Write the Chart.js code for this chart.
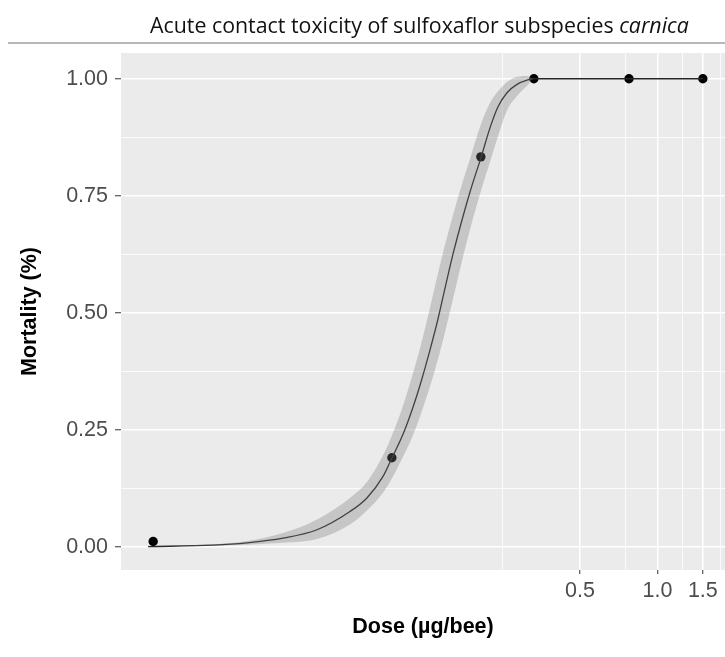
<!DOCTYPE html>
<html>
<head>
<meta charset="utf-8">
<script src="https://cdn.jsdelivr.net/npm/chart.js@4.4.1/dist/chart.umd.min.js"></script>
<style>
  html, body { margin: 0; padding: 0; background: #fff; }
  #wrap { position: relative; width: 725px; height: 657px; overflow: hidden; }
  #chart { position: absolute; left: 0; top: 0; }
  #title {
    position: absolute; top: 14px; left: 150px; white-space: nowrap;
    font-family: "Open Sans", "Noto Sans", sans-serif; font-size: 18px; line-height: 1; color: #111;
  }
  #rule { position: absolute; left: 8px; top: 42px; width: 717px; border-top: 2px solid #b8b8b8; }
</style>
</head>
<body>
<div id="wrap">
  <canvas id="chart" width="725" height="657"></canvas>
  <div id="title">Acute contact toxicity of sulfoxaflor subspecies <i>carnica</i></div>
  <div id="rule"></div>
</div>
<script>
// observed mortality per dose
const doses = [0.011, 0.093, 0.206, 0.331, 0.775, 1.5];
const mortality = [0.011, 0.19, 0.833, 1, 1, 1];

// fitted curve and its confidence band
const curveDose = [0.01051, 0.01878, 0.02545, 0.03512, 0.04761, 0.06393, 0.0744, 0.0859, 0.0931,
  0.1027, 0.1123, 0.1196, 0.1307, 0.1405, 0.1495, 0.1606, 0.1741, 0.187, 0.2064, 0.2236, 0.2402,
  0.2603, 0.2847, 0.3113, 0.3314, 0.7749, 1.502];
const curveFit = [0, 0.003, 0.008, 0.018, 0.036, 0.075, 0.104, 0.15, 0.19, 0.24, 0.298, 0.345,
  0.42, 0.487, 0.552, 0.625, 0.698, 0.758, 0.832, 0.895, 0.94, 0.97, 0.988, 0.997, 1, 1, 1];
const curveUpper = [0, 0.005, 0.012, 0.029, 0.058, 0.104, 0.138, 0.195, 0.238, 0.301, 0.371, 0.424,
  0.51, 0.584, 0.645, 0.709, 0.775, 0.829, 0.903, 0.948, 0.973, 0.993, 1.004, 1.006, 1, 1, 1];
const curveLower = [0, 0.002, 0.004, 0.008, 0.016, 0.047, 0.077, 0.115, 0.146, 0.192, 0.238, 0.278,
  0.342, 0.401, 0.458, 0.529, 0.611, 0.678, 0.761, 0.822, 0.877, 0.932, 0.963, 0.985, 1, 1, 1];

// axis ticks (labels) and grid lines
const xTickValues = [0.5, 1.0, 1.5];
const xGridValues = [0.25, 0.5, 0.75, 1.0, 1.25, 1.5, 1.75];
const yTickValues = [0, 0.25, 0.5, 0.75, 1];
const yGridValues = [0, 0.125, 0.25, 0.375, 0.5, 0.625, 0.75, 0.875, 1];

const toXY = (xs, ys) => xs.map((x, i) => ({ x: x, y: ys[i] }));

// fit title to the width it has in the picture
const titleEl = document.getElementById('title');
const titleW = titleEl.getBoundingClientRect().width;
titleEl.style.fontSize = (18 * 539 / titleW) + 'px';

const panelBg = {
  id: 'panelBg',
  beforeDraw(chart) {
    const { ctx, chartArea: a } = chart;
    ctx.save();
    ctx.fillStyle = '#ebebeb';
    ctx.fillRect(a.left, a.top, a.right - a.left, a.bottom - a.top);
    ctx.restore();
  }
};

const tickFont = { family: '"Liberation Sans", Arial, sans-serif', size: 21.5 };
const titleFont = { family: '"Liberation Sans", Arial, sans-serif', size: 21.5, weight: 'bold' };

const ctx = document.getElementById('chart').getContext('2d');
new Chart(ctx, {
  type: 'line',
  data: {
    datasets: [
      {
        label: 'upper',
        data: toXY(curveDose, curveUpper),
        borderWidth: 0,
        pointRadius: 0,
        backgroundColor: 'rgba(120, 120, 120, 0.32)',
        fill: '+1',
        cubicInterpolationMode: 'monotone',
      },
      {
        label: 'lower',
        data: toXY(curveDose, curveLower),
        borderWidth: 0,
        pointRadius: 0,
        fill: false,
        cubicInterpolationMode: 'monotone',
      },
      {
        label: 'fit',
        data: toXY(curveDose, curveFit),
        borderColor: '#262626',
        borderWidth: 1.3,
        pointRadius: 0,
        fill: false,
        cubicInterpolationMode: 'monotone',
      },
      {
        type: 'scatter',
        label: 'observed',
        data: toXY(doses, mortality),
        backgroundColor: '#000',
        borderWidth: 0,
        pointRadius: 4.7,
      },
    ],
  },
  options: {
    responsive: false,
    animation: false,
    layout: { autoPadding: false, padding: { top: 53, left: 0, right: 0, bottom: 0 } },
    plugins: {
      legend: { display: false },
      tooltip: { enabled: false },
    },
    scales: {
      x: {
        type: 'logarithmic',
        position: 'bottom',
        min: 0.008249,
        max: 1.8287,
        afterBuildTicks: (s) => { s.ticks = xGridValues.map((v) => ({ value: v })); },
        afterFit: (s) => { s.height = 87; s.paddingLeft = 0; s.paddingRight = 0; },
        ticks: {
          autoSkip: false,
          maxRotation: 0,
          minRotation: 0,
          padding: 4,
          color: '#4d4d4d',
          font: tickFont,
          callback: (v) => (xTickValues.includes(v) ? v.toFixed(1) : ''),
        },
        grid: {
          color: '#ffffff',
          lineWidth: (c) => (c.tick && xTickValues.includes(c.tick.value) ? 1.5 : 0.8),
          tickLength: 4,
          tickWidth: 1,
          tickColor: (c) => (c.tick && xTickValues.includes(c.tick.value) ? '#333333' : 'rgba(0,0,0,0)'),
        },
        border: { display: false },
        title: {
          display: true,
          text: 'Dose (µg/bee)',
          color: '#000',
          font: titleFont,
          padding: { top: 0, bottom: 17 },
        },
      },
      y: {
        type: 'linear',
        min: -0.05,
        max: 1.055,
        afterBuildTicks: (s) => { s.ticks = yGridValues.map((v) => ({ value: v })); },
        afterFit: (s) => { s.width = 121; s.paddingTop = 0; s.paddingBottom = 0; },
        ticks: {
          padding: 7,
          color: '#4d4d4d',
          font: tickFont,
          callback: (v) => (yTickValues.includes(v) ? v.toFixed(2) : ''),
        },
        grid: {
          color: '#ffffff',
          lineWidth: (c) => (c.tick && yTickValues.includes(c.tick.value) ? 1.5 : 0.8),
          tickLength: 6,
          tickWidth: 1,
          tickColor: (c) => (c.tick && yTickValues.includes(c.tick.value) ? '#333333' : 'rgba(0,0,0,0)'),
        },
        border: { display: false },
        title: {
          display: true,
          text: 'Mortality (%)',
          color: '#000',
          font: titleFont,
          padding: { top: 17, bottom: 0 },
        },
      },
    },
  },
  plugins: [panelBg],
});
</script>
</body>
</html>
